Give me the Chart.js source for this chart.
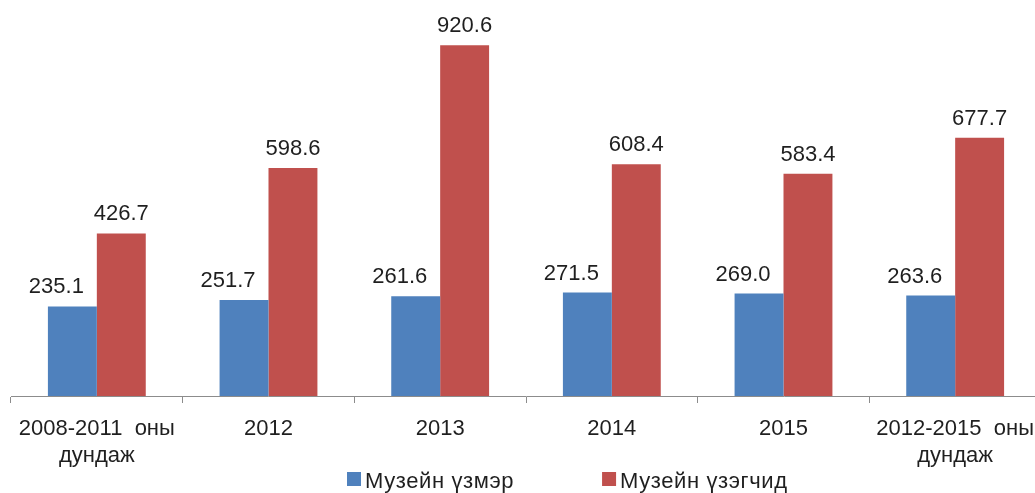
<!DOCTYPE html>
<html>
<head>
<meta charset="utf-8">
<script src="https://cdn.jsdelivr.net/npm/chart.js@4/dist/chart.umd.min.js"></script>
<style>
    html, body { margin: 0; padding: 0; background: #fff; overflow: hidden; }
    #wrap { width: 1050px; height: 493px; }
</style>
</head>
<body>
<div id="wrap"><canvas id="museumChart" width="1050" height="493"></canvas></div>
<script>
    // Data
    const categories = [
        ['2008-2011  оны', 'дундаж'],
        '2012',
        '2013',
        '2014',
        '2015',
        ['2012-2015  оны', 'дундаж']
    ];
    const exhibits = [235.1, 251.7, 261.6, 271.5, 269.0, 263.6];   // Музейн үзмэр
    const visitors = [426.7, 598.6, 920.6, 608.4, 583.4, 677.7];   // Музейн үзэгчид
    const seriesNames = ['Музейн үзмэр', 'Музейн үзэгчид'];
    const seriesColors = ['#4F81BD', '#C0504D'];

    const textColor = '#1f1f1f';
    const fontFamily = '"Liberation Sans", Arial, sans-serif';

    // Value labels above each bar (blue ones sit a little to the left, as in the original)
    const labelShift = [-16, 0];
    const valueLabels = {
        id: 'valueLabels',
        afterDatasetsDraw(chart) {
            const ctx = chart.ctx;
            ctx.save();
            ctx.font = '22px ' + fontFamily;
            ctx.fillStyle = textColor;
            ctx.textAlign = 'center';
            ctx.textBaseline = 'alphabetic';
            chart.data.datasets.forEach(function(ds, i) {
                chart.getDatasetMeta(i).data.forEach(function(bar, j) {
                    ctx.fillText(ds.data[j].toFixed(1), bar.x + labelShift[i], bar.y - 13);
                });
            });
            ctx.restore();
        }
    };

    // Simple legend row under the axis labels
    const bottomLegend = {
        id: 'bottomLegend',
        afterDraw(chart, args, opts) {
            const ctx = chart.ctx;
            ctx.save();
            ctx.font = opts.fontSize + 'px ' + fontFamily;
            ctx.letterSpacing = opts.spacing + 'px';
            ctx.textBaseline = 'alphabetic';
            let x = opts.x;
            chart.data.datasets.forEach(function(ds) {
                ctx.fillStyle = ds.backgroundColor;
                ctx.fillRect(x, opts.y - opts.box - 2, opts.box, opts.box);
                ctx.fillStyle = textColor;
                ctx.fillText(ds.label, x + opts.box + 4, opts.y);
                x += opts.box + 4 + ctx.measureText(ds.label).width + opts.gap;
            });
            ctx.restore();
        }
    };

    new Chart(document.getElementById('museumChart'), {
        type: 'bar',
        data: {
            labels: categories,
            datasets: [
                { label: seriesNames[0], data: exhibits, backgroundColor: seriesColors[0] },
                { label: seriesNames[1], data: visitors, backgroundColor: seriesColors[1] }
            ]
        },
        options: {
            responsive: false,
            animation: false,
            datasets: {
                bar: { categoryPercentage: 0.57, barPercentage: 1.0 }
            },
            layout: { padding: { left: 11, right: 9, top: 15, bottom: 0 } },
            scales: {
                x: {
                    grid: {
                        display: true,
                        drawOnChartArea: false,
                        drawTicks: true,
                        tickLength: 7,
                        color: '#8c8c8c',
                        offset: true
                    },
                    border: { display: true, color: '#8c8c8c', width: 1 },
                    ticks: {
                        color: textColor,
                        padding: 13,
                        maxRotation: 0,
                        autoSkip: false,
                        font: { family: fontFamily, size: 22, lineHeight: 1.2 }
                    },
                    afterFit(scale) { scale.height = 97; }
                },
                y: {
                    display: false,
                    min: 0,
                    max: 1000
                }
            },
            plugins: {
                legend: { display: false },
                tooltip: { enabled: false },
                bottomLegend: { x: 347, y: 488, box: 14, gap: 88, fontSize: 22, spacing: 0.6 }
            }
        },
        plugins: [valueLabels, bottomLegend]
    });
</script>
</body>
</html>
